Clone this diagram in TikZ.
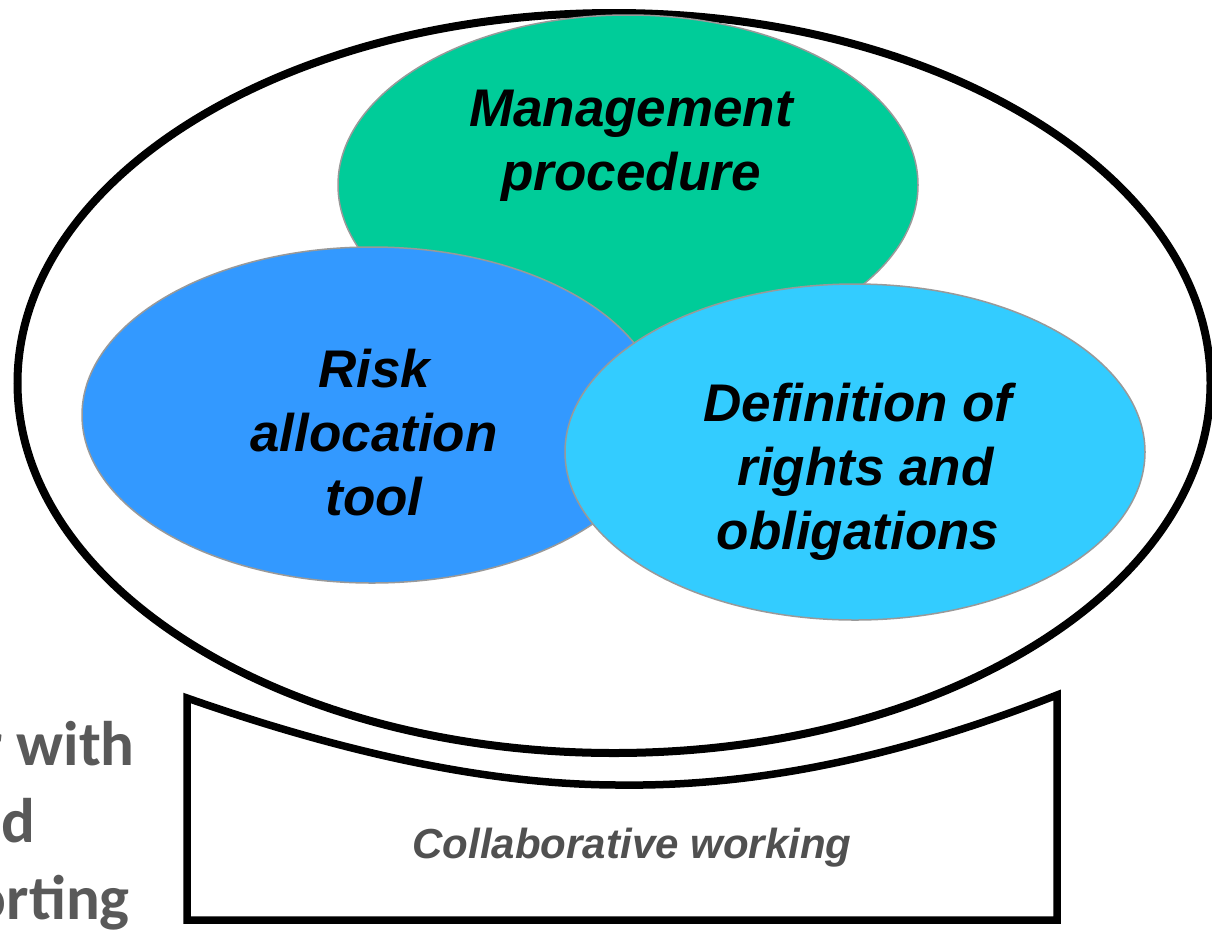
\documentclass[tikz,border=0pt]{standalone}
\usepackage{fontspec}
\setmainfont{Liberation Sans}
\newfontfamily\carlito{Carlito}
\usetikzlibrary{shapes.geometric}
\definecolor{mgreen}{HTML}{00CC99}
\definecolor{mblue}{HTML}{3399FF}
\definecolor{mcyan}{HTML}{33CCFF}
\definecolor{egray}{HTML}{999999}
\definecolor{tgray}{HTML}{505050}
\definecolor{lgray}{HTML}{595959}
\tikzset{
  blob/.style={ellipse, draw=egray, line width=1.5pt, inner sep=0pt, minimum width=580pt, minimum height=336pt},
  bigtext/.style={font=\fontsize{53}{64}\selectfont\bfseries\itshape, align=center, text=black},
  sidetext/.style={font=\carlito\fontsize{63}{77}\selectfont\bfseries, text=lgray, anchor=base east, inner sep=0pt},
}
\begin{document}
\begin{tikzpicture}[x=1pt,y=-1pt]
\useasboundingbox (0,0) rectangle (1212,930);
\fill[white] (0,0) rectangle (1212,930);
% outer ellipse
\node[ellipse, draw=black, line width=8pt, fill=white, inner sep=0pt, minimum width=1193pt, minimum height=740pt] (outer) at (614,383) {};
% bottom box
\draw[line width=7.5pt, line join=miter] (187,698) -- (187,920) -- (1057,920) -- (1057,695)
  .. controls (930,745) and (780,787) .. (620,785)
  .. controls (480,785) and (330,748) .. cycle;
\node[font=\fontsize{42}{50}\selectfont\bfseries\itshape, text=tgray] (collab) at (632,848) {Collaborative working};
% three ellipses
\node[blob, fill=mgreen, minimum height=340pt] (mgmt) at (628,185) {};
\node[blob, fill=mblue] (risk) at (372,415) {};
\node[blob, fill=mcyan] (defn) at (855,452) {};
\node[bigtext] (mgmtt) at (631,146) {Management\\procedure};
\node[bigtext] (riskt) at (374,433) {Risk\\allocation\\tool};
\node[bigtext] (defnt) at (858,472) {Definition of\\\hspace*{15pt}rights and\\obligations};
% clipped side text
\node[sidetext] (s1) at (135,765) {r with};
\node[sidetext] (s2) at (36,842) {d};
\node[sidetext] (s3) at (130,919) {orting};
\end{tikzpicture}
\end{document}
